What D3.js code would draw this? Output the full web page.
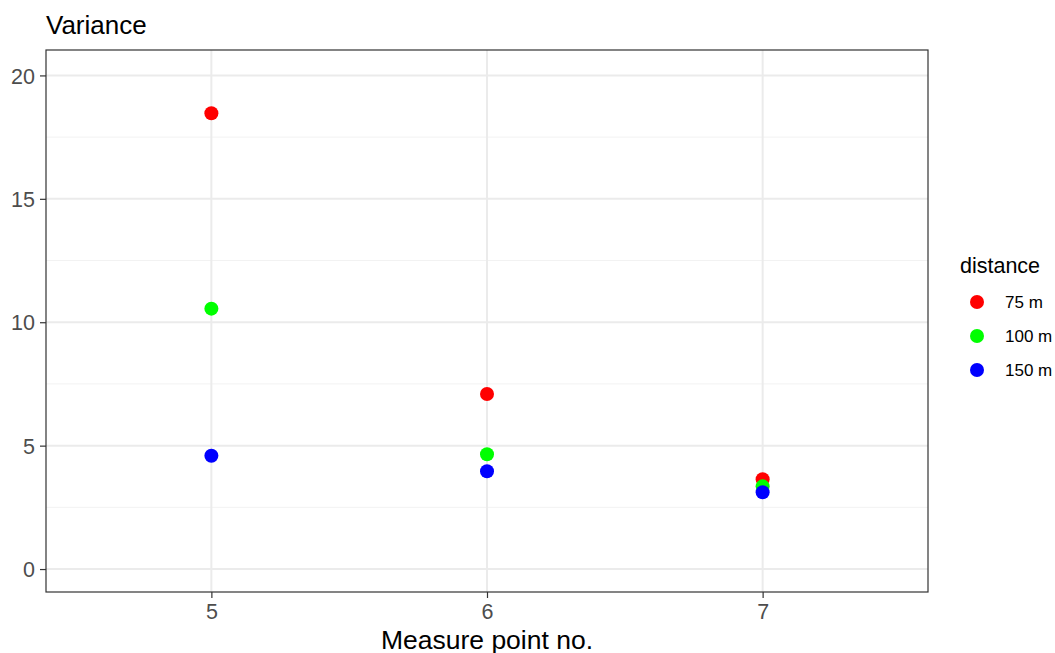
<!DOCTYPE html>
<html>
<head>
<meta charset="utf-8">
<script src="https://cdn.jsdelivr.net/npm/d3@7"></script>
<style>
  body { margin: 0; background: #fff; }
  text { font-family: "Liberation Sans", Arial, sans-serif; }
</style>
</head>
<body>
<div id="chart-container"></div>
<script>
// data
const points = ['5', '6', '7']
const distances = ['75 m', '100 m', '150 m']
const colors = ['#FF0000', '#00FF00', '#0000FF']
const var75 = [18.47, 7.09, 3.64]
const var100 = [10.55, 4.65, 3.35]
const var150 = [4.59, 3.96, 3.11]
const yTicks = [0, 5, 10, 15, 20]
const yMinor = [2.5, 7.5, 12.5, 17.5]

// constants
const width = 1055
const height = 653
const panel = {left: 46, top: 50, right: 928, bottom: 592}

const series = [var75, var100, var150]
const data = []
series.forEach((vals, si) => {
  vals.forEach((v, i) => data.push({point: points[i], dist: distances[si], value: v}))
})

const svg = d3.select('#chart-container')
  .append('svg')
  .attr('width', width)
  .attr('height', height)

const xScale = d3.scalePoint()
  .domain(points)
  .range([panel.left, panel.right])
  .padding(0.6)

const yScale = d3.scaleLinear()
  .domain([-0.93, 21.03])
  .range([panel.bottom, panel.top])

const color = d3.scaleOrdinal().domain(distances).range(colors)

// grid
const grid = svg.append('g')
grid.selectAll('.minor')
  .data(yMinor).enter()
  .append('line')
  .attr('x1', panel.left).attr('x2', panel.right)
  .attr('y1', d => yScale(d)).attr('y2', d => yScale(d))
  .style('stroke', '#F2F2F2').style('stroke-width', 1)
grid.selectAll('.major')
  .data(yTicks).enter()
  .append('line')
  .attr('x1', panel.left).attr('x2', panel.right)
  .attr('y1', d => yScale(d)).attr('y2', d => yScale(d))
  .style('stroke', '#EBEBEB').style('stroke-width', 2)
grid.selectAll('.vmajor')
  .data(points).enter()
  .append('line')
  .attr('x1', d => xScale(d)).attr('x2', d => xScale(d))
  .attr('y1', panel.top).attr('y2', panel.bottom)
  .style('stroke', '#EBEBEB').style('stroke-width', 2)

// points
svg.append('g')
  .selectAll('circle')
  .data(data).enter()
  .append('circle')
  .attr('cx', d => xScale(d.point))
  .attr('cy', d => yScale(d.value))
  .attr('r', 7)
  .style('fill', d => color(d.dist))

// panel border
svg.append('rect')
  .attr('x', panel.left).attr('y', panel.top)
  .attr('width', panel.right - panel.left)
  .attr('height', panel.bottom - panel.top)
  .style('fill', 'none').style('stroke', '#333333').style('stroke-width', 1.2)

// axes
const yAxis = d3.axisLeft(yScale).tickValues(yTicks).tickSize(6).tickPadding(5)
const yAxisG = svg.append('g')
  .attr('transform', `translate(${panel.left}, 0)`)
  .call(yAxis)
const xAxis = d3.axisBottom(xScale).tickSize(6).tickPadding(6)
const xAxisG = svg.append('g')
  .attr('transform', `translate(0, ${panel.bottom})`)
  .call(xAxis)
for (const g of [xAxisG, yAxisG]) {
  g.select('.domain').remove()
  g.selectAll('.tick line').style('stroke', '#333333').style('stroke-width', 1.2)
  g.selectAll('.tick text')
    .style('font-family', '"Liberation Sans", Arial, sans-serif')
    .style('font-size', '21.5px')
    .style('fill', '#4D4D4D')
}
yAxisG.selectAll('.tick text').attr('dy', '0.36em')

// titles
svg.append('text')
  .attr('x', 46).attr('y', 34)
  .attr('font-size', '26px')
  .attr('fill', 'black')
  .text('Variance')
svg.append('text')
  .attr('x', (panel.left + panel.right) / 2).attr('y', 649)
  .attr('text-anchor', 'middle')
  .attr('font-size', '26.5px')
  .attr('fill', 'black')
  .text('Measure point no.')

// legend
const legend = svg.append('g').attr('transform', 'translate(960, 273)')
legend.append('text')
  .attr('x', 0).attr('y', 0)
  .attr('font-size', '21.5px')
  .attr('fill', 'black')
  .text('distance')
const items = legend.selectAll('.item')
  .data(distances).enter()
  .append('g')
  .attr('transform', (d, i) => `translate(0, ${29 + i * 34})`)
items.append('circle')
  .attr('cx', 17).attr('cy', 0).attr('r', 7)
  .style('fill', d => color(d))
items.append('text')
  .attr('x', 45).attr('y', 0).attr('dy', '0.36em')
  .attr('font-size', '17px')
  .attr('fill', 'black')
  .text(d => d)
</script>
</body>
</html>
